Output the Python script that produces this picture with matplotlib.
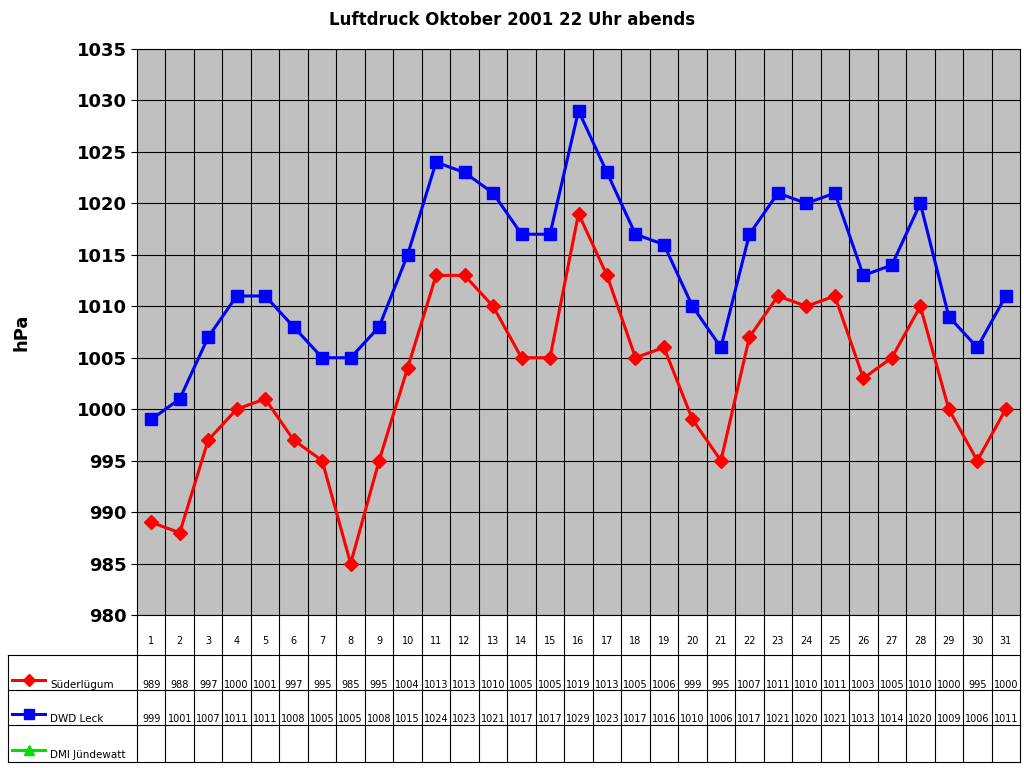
import matplotlib
matplotlib.use("Agg")
import matplotlib.pyplot as plt
from matplotlib.lines import Line2D

days = list(range(1, 32))
sued = [989,988,997,1000,1001,997,995,985,995,1004,1013,1013,1010,1005,1005,1019,1013,1005,1006,999,995,1007,1011,1010,1011,1003,1005,1010,1000,995,1000]
dwd = [999,1001,1007,1011,1011,1008,1005,1005,1008,1015,1024,1023,1021,1017,1017,1029,1023,1017,1016,1010,1006,1017,1021,1020,1021,1013,1014,1020,1009,1006,1011]
series_names = ["Süderlügum", "DWD Leck", "DMI Jündewatt"]

W, H = 1024, 768
fig = plt.figure(figsize=(W/100, H/100), dpi=100)
fig.patch.set_facecolor("white")
L, R, T, B = 137, 1020, 49, 615
ax = fig.add_axes([L/W, 1-B/H, (R-L)/W, (B-T)/H])
ax.set_facecolor("#c0c0c0")
ax.plot(days, sued, color="red", lw=2.2, marker="D", ms=7, zorder=3)
ax.plot(days, dwd, color="blue", lw=2.2, marker="s", ms=8, zorder=3)
ax.set_xlim(0.5, 31.5)
ax.set_ylim(980, 1035)
ax.set_yticks(range(980, 1036, 5))
ax.set_xticks([d + 0.5 for d in days[:-1]])
ax.set_xticklabels([])
ax.tick_params(axis="x", length=0)
ax.tick_params(axis="y", labelsize=13, length=4)
for lab in ax.get_yticklabels():
    lab.set_fontweight("bold")
ax.grid(True, color="black", lw=0.8)
for s in ax.spines.values():
    s.set_color("black")
fig.text(22/W, 1-332/H, "hPa", rotation=90, ha="center", va="center",
         fontsize=13, fontweight="bold")
fig.text(0.5, 1-20/H, "Luftdruck Oktober 2001 22 Uhr abends", ha="center", va="center",
         fontsize=12, fontweight="bold")

def fx(x): return x / W
def fy(y): return 1 - y / H
def line(x0, y0, x1, y1):
    fig.add_artist(Line2D([fx(x0), fx(x1)], [fy(y0), fy(y1)], color="black", lw=0.8))

cw = (R - L) / 31
rows = [655, 690, 725, 762]
for i in range(32):
    x = L + i * cw
    line(x, B, x, rows[-1])
for y in rows:
    line(8, y, R, y)
line(8, rows[0], 8, rows[-1])
for i, d in enumerate(days):
    xc = L + (i + 0.5) * cw
    fig.text(fx(xc), fy(641), str(d), ha="center", va="center", fontsize=7)
    fig.text(fx(xc), fy(685), str(sued[i]), ha="center", va="center", fontsize=7)
    fig.text(fx(xc), fy(719), str(dwd[i]), ha="center", va="center", fontsize=7)
styles = [("red", "D", 6), ("blue", "s", 7), ("#00e000", "^", 7)]
for k, (name, (c, m, ms)) in enumerate(zip(series_names, styles)):
    yc = [680, 714, 750][k]
    fig.add_artist(Line2D([fx(12), fx(45)], [fy(yc), fy(yc)], color=c, lw=2.2))
    fig.add_artist(Line2D([fx(28.5)], [fy(yc)], color=c, marker=m, ms=ms))
    fig.text(fx(50), fy(yc + 5), name, ha="left", va="center", fontsize=7.5)

fig.savefig("out.png", dpi=100)
